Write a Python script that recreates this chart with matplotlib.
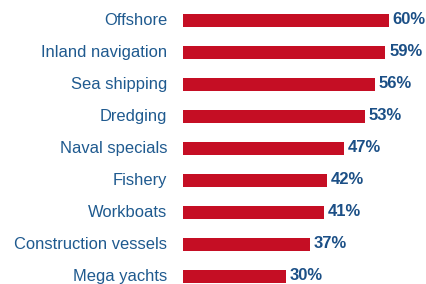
import matplotlib
matplotlib.use('Agg')
from matplotlib import pyplot as plt

# data
categories = ['Offshore', 'Inland navigation', 'Sea shipping', 'Dredging',
              'Naval specials', 'Fishery', 'Workboats', 'Construction vessels',
              'Mega yachts']
values = [60, 59, 56, 53, 47, 42, 41, 37, 30]

plt.rcParams['font.family'] = ['Liberation Sans', 'DejaVu Sans']

fig = plt.figure(figsize=(4.27, 2.84), dpi=100)
ax = fig.add_axes([183 / 427, 0, 1 - 183 / 427, 279.5 / 284])

pos = list(range(len(categories)))
ax.barh(pos, values, height=0.41, color='#C50E24')

# value labels right of the bars
for p, v in zip(pos, values):
    ax.text(v + 1.1, p - 0.03, f'{v}%', va='center', ha='left', fontsize=12,
            fontweight='bold', color='#1B4F86')

ax.set_xlim(0, 71.1)
ax.set_ylim(8 + 7.5 / 32, -0.5)
ax.set_yticks(pos)
ax.set_yticklabels(categories, fontsize=11.9, color='#1F5A8F', va='center')
ax.tick_params(axis='y', length=0, pad=11.5)
ax.set_xticks([])
for s in ax.spines.values():
    s.set_visible(False)

fig.savefig('out.png', dpi=100)
plt.close('all')
